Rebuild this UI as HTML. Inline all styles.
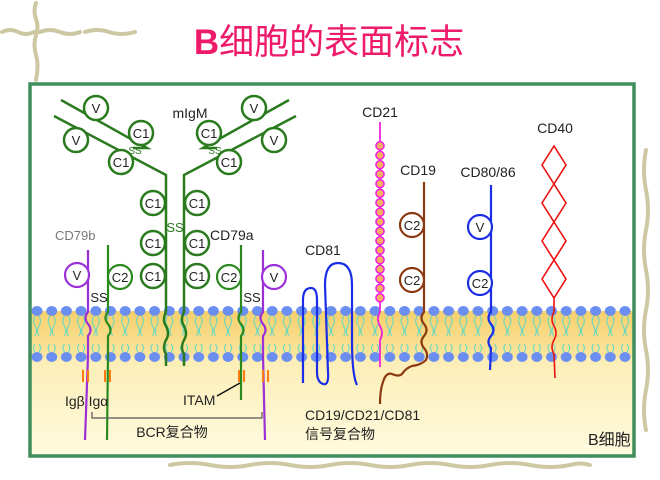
<!DOCTYPE html>
<html><head><meta charset="utf-8"><style>
html,body{margin:0;padding:0;background:#fff;}
svg{display:block;}
text{font-family:"Liberation Sans","Noto Sans CJK SC",sans-serif;}
</style></head><body>
<svg width="660" height="480" viewBox="0 0 660 480" xmlns="http://www.w3.org/2000/svg">
<defs>
<linearGradient id="yl" x1="0" y1="0" x2="0" y2="1">
<stop offset="0" stop-color="#fbe7a0"/><stop offset="1" stop-color="#fffbe0"/>
</linearGradient>
<linearGradient id="band" x1="0" y1="0" x2="0" y2="1">
<stop offset="0" stop-color="#f6cf6c"/><stop offset="1" stop-color="#fbe6a0"/>
</linearGradient>
<pattern id="heads" x="30" y="0" width="14.7" height="480" patternUnits="userSpaceOnUse">
<ellipse cx="7" cy="311" rx="5.5" ry="5" fill="#6b8ff0"/>
<ellipse cx="7" cy="357" rx="5.5" ry="5" fill="#6b8ff0"/>
<path d="M5 316 q-3 5 0 10 q3 5 0 10 M9 316 q3 5 0 10 q-3 5 0 10 M5 352 q-3 -4 0 -8 M9 352 q3 -4 0 -8" stroke="#58d8c8" stroke-width="1" fill="none"/>
</pattern>
<pattern id="beads" x="370" y="141" width="20" height="9.5" patternUnits="userSpaceOnUse">
<circle cx="10" cy="4.75" r="4" fill="#f8b060" stroke="#ee22dd" stroke-width="1.6"/>
</pattern>
</defs>
<g stroke="#c8c298" stroke-width="4" fill="none" stroke-linecap="round" opacity="0.9">
<path d="M2 32 q8 -4 16 0 q8 4 16 0 M40 32 q10 -4 20 0 q10 4 20 0 M85 32 q12 -4 24 0 q12 4 26 0"/>
<path d="M36 3 q-3 8 0 16 q3 8 0 16 q-3 10 0 20 q3 10 0 25"/>
<path d="M646 150 q-4 20 0 40 q4 20 0 40 q-4 20 0 40 q4 20 0 40 q-4 20 0 40 q4 20 0 40 q-4 20 0 40"/>
<path d="M170 465 q20 -4 40 0 q20 4 40 0 q20 -4 40 0 q20 4 40 0 q20 -4 40 0 q20 4 40 0 q20 -4 40 0 q20 4 40 0 q20 -4 40 0 q20 4 40 0 q10 -3 20 0"/>
</g>
<text x="329" y="54" text-anchor="middle" font-size="35" fill="#ee1a6a"><tspan font-weight="bold">B</tspan>细胞的表面标志</text>
<rect x="30" y="84" width="604" height="372" fill="#fff"/>
<rect x="30" y="311" width="604" height="145" fill="url(#yl)"/>
<rect x="30" y="311" width="604" height="46" fill="url(#band)"/>
<rect x="30" y="303" width="604" height="62" fill="url(#heads)"/>
<rect x="30" y="84" width="604" height="372" fill="none" stroke="#3e8e5e" stroke-width="3.5"/>
<g stroke="#2a7a1e" stroke-width="2.5" fill="none">
<path d="M61 100 L147 148 L133 148"/>
<path d="M54 116 L166 175 L166 312 q-4 8 0 14 q4 8 0 14 q-4 8 0 14 l0 12"/>
<path d="M289 100 L203 148 L217 148"/>
<path d="M296 116 L184 175 L184 312 q-4 8 0 14 q4 8 0 14 q-4 8 0 14 l0 12"/>
<g fill="#fff">
<circle cx="96" cy="108" r="12"/><circle cx="141" cy="133" r="12"/>
<circle cx="76" cy="140" r="12"/><circle cx="121" cy="162" r="12"/>
<circle cx="254" cy="108" r="12"/><circle cx="209" cy="133" r="12"/>
<circle cx="274" cy="140" r="12"/><circle cx="229" cy="162" r="12"/>
<circle cx="153" cy="203" r="12"/><circle cx="153" cy="243" r="12"/><circle cx="153" cy="276" r="12"/>
<circle cx="197" cy="203" r="12"/><circle cx="197" cy="243" r="12"/><circle cx="197" cy="276" r="12"/>
</g>
</g>
<g font-family="Liberation Sans Narrow,Liberation Sans,sans-serif" font-size="13" fill="#222" text-anchor="middle">
<text x="96" y="113">V</text><text x="141" y="138">C1</text><text x="76" y="145">V</text><text x="121" y="167">C1</text>
<text x="254" y="113">V</text><text x="209" y="138">C1</text><text x="274" y="145">V</text><text x="229" y="167">C1</text>
<text x="153" y="208">C1</text><text x="153" y="248">C1</text><text x="153" y="281">C1</text>
<text x="197" y="208">C1</text><text x="197" y="248">C1</text><text x="197" y="281">C1</text>
</g>
<g fill="#2a7a1e" font-size="10" text-anchor="middle"><text x="135" y="154">SS</text><text x="215" y="154">SS</text></g>
<text x="175" y="232" font-size="13" fill="#2a7a1e" text-anchor="middle">SS</text>
<text x="190" y="118" font-size="14" fill="#222" text-anchor="middle">mIgM</text>
<text x="55" y="240" font-size="13" fill="#777" font-family="Liberation Mono,monospace">CD79b</text>
<text x="210" y="240" font-size="14" fill="#222">CD79a</text>
<g fill="none" stroke-width="2.2">
<path d="M88 250 L88 312 q-5 6 0 12 q5 6 0 12 l0 20 L85 440" stroke="#9b30d8"/>
<path d="M108 245 L108 312 q-5 6 0 12 q5 6 0 12 l0 20 L107 440" stroke="#2a8a1e"/>
<path d="M241 245 L241 312 q-5 6 0 12 q5 6 0 12 l0 20 L241 400" stroke="#2a8a1e"/>
<path d="M263 250 L263 312 q-5 6 0 12 q5 6 0 12 l0 20 L265 440" stroke="#9b30d8"/>
<circle cx="77" cy="275" r="12" stroke="#9b30d8" fill="#fff"/>
<circle cx="120" cy="277" r="12" stroke="#2a8a1e" fill="#fff"/>
<circle cx="229" cy="277" r="12" stroke="#2a8a1e" fill="#fff"/>
<circle cx="274" cy="277" r="12" stroke="#9b30d8" fill="#fff"/>
</g>
<g font-family="Liberation Sans Narrow,Liberation Sans,sans-serif" font-size="13" fill="#222" text-anchor="middle">
<text x="77" y="280">V</text><text x="120" y="282">C2</text><text x="229" y="282">C2</text><text x="274" y="282">V</text>
</g>
<g font-size="13" fill="#222" text-anchor="middle"><text x="99" y="302">SS</text><text x="252" y="302">SS</text></g>
<g stroke="#ff7a10" stroke-width="2"><path d="M83 370 v12 M88 370 v12 M105 370 v12 M110 370 v12 M239 370 v12 M244 370 v12 M263 370 v12 M268 370 v12"/></g>
<text x="65" y="406" font-size="14" fill="#222">Igβ Igα</text>
<text x="183" y="405" font-size="14" fill="#222">ITAM</text>
<path d="M217 396 L240 383" stroke="#111" stroke-width="1.5"/>
<path d="M92 412 v6 H262 v-6" stroke="#555" stroke-width="1.2" fill="none"/>
<text x="172" y="437" font-size="14" fill="#222" text-anchor="middle">BCR复合物</text>
<text x="305" y="255" font-size="14" fill="#222">CD81</text>
<path d="M303 383 L303 300 q0 -12 8 -12 q6 0 6 12 L317 372 q0 10 6 12 q6 2 5 -12 L325 285 q0 -22 13 -22 q14 0 14 22 L352 340 q0 35 5 45" stroke="#1a2ee8" stroke-width="2.2" fill="none"/>
<text x="380" y="117" font-size="14" fill="#222" text-anchor="middle">CD21</text>
<path d="M380 122 L380 312 q-4 7 0 14 q4 7 0 14 l0 27" stroke="#ee22dd" stroke-width="1.8" fill="none"/>
<rect x="370" y="141" width="20" height="162" fill="url(#beads)"/>
<text x="418" y="175" font-size="14" fill="#222" text-anchor="middle">CD19</text>
<path d="M424 182 L424 312 q-5 6 0 12 q5 6 0 12 q-5 6 0 12 q5 6 2 12 q-5 5 -14 6 q-6 2 -10 8 q-3 3 -10 0 q-6 -2 -9 8 q-3 8 -3 22" stroke="#8b3a10" stroke-width="2.2" fill="none"/>
<g stroke="#8b3a10" stroke-width="2.2" fill="#fff"><circle cx="412" cy="225" r="12"/><circle cx="412" cy="280" r="12"/></g>
<text x="488" y="177" font-size="14" fill="#222" text-anchor="middle">CD80/86</text>
<path d="M491 185 L491 312 q-5 6 0 12 q5 6 0 12 q-5 6 0 12 l-1 22" stroke="#1a2ee8" stroke-width="2.2" fill="none"/>
<g stroke="#1a2ee8" stroke-width="2.2" fill="#fff"><circle cx="480" cy="227" r="12"/><circle cx="480" cy="283" r="12"/></g>
<g font-family="Liberation Sans Narrow,Liberation Sans,sans-serif" font-size="13" fill="#222" text-anchor="middle">
<text x="412" y="230">C2</text><text x="412" y="285">C2</text><text x="480" y="232">V</text><text x="480" y="288">C2</text>
</g>
<text x="555" y="133" font-size="14" fill="#222" text-anchor="middle">CD40</text>
<path d="M554 146 L566 165 L542 203 L554 222 L566 203 L542 165 Z M554 184 L566 203 L554 222 M554 184 L542 203 M554 222 L566 241 L542 279 L554 298 L566 279 L542 241 Z M554 260 L566 279 M554 260 L542 279 M554 298 L554 312 q-4 7 0 14 q4 7 0 14 q-4 7 0 14 l1 24" stroke="#ee1111" stroke-width="1.6" fill="none"/>
<text x="305" y="420" font-size="14" fill="#222">CD19/CD21/CD81</text>
<text x="305" y="439" font-size="14" fill="#222">信号复合物</text>
<text x="588" y="445" font-size="16" fill="#222">B细胞</text>
</svg>
</body></html>
